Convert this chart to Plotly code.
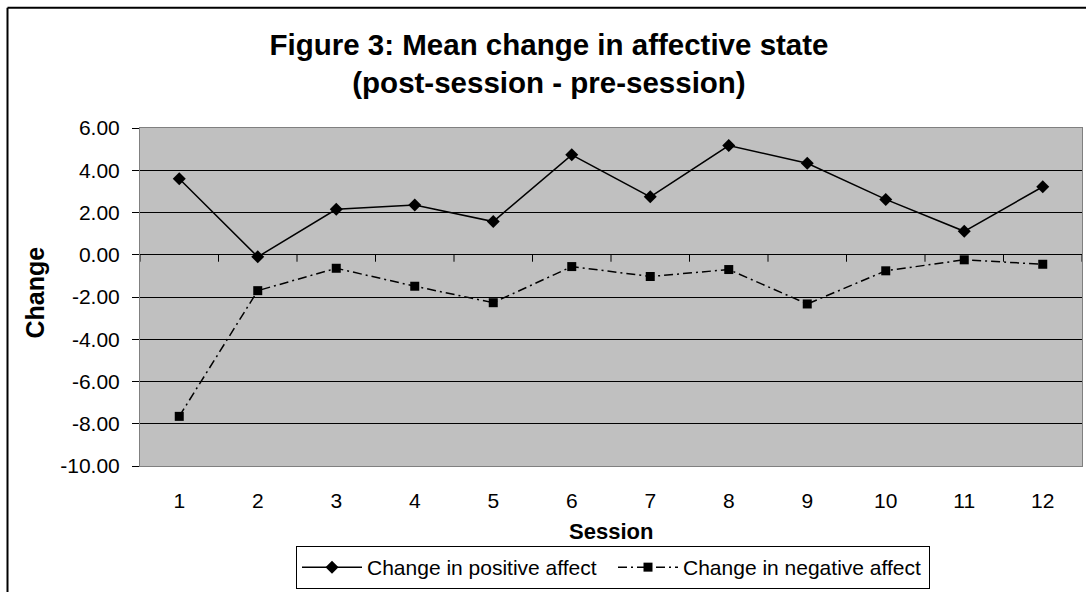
import plotly.graph_objects as go

# Mean change per session (post-session minus pre-session)
sessions = [1, 2, 3, 4, 5, 6, 7, 8, 9, 10, 11, 12]
positive_change = [3.60, -0.10, 2.15, 2.35, 1.57, 4.73, 2.74, 5.17, 4.33, 2.62, 1.11, 3.22]
negative_change = [-7.65, -1.70, -0.64, -1.49, -2.27, -0.56, -1.03, -0.70, -2.33, -0.76, -0.24, -0.45]

y_ticks = [6, 4, 2, 0, -2, -4, -6, -8, -10]
y_tick_labels = ["6.00", "4.00", "2.00", "0.00", "-2.00", "-4.00", "-6.00", "-8.00", "-10.00"]
x_tick_labels = [str(s) for s in sessions]

FONT = "Liberation Sans, Arial, sans-serif"

W, H = 1086, 592
ML, MR, MT, MB = 140, 4, 128, 125
PW, PH = W - ML - MR, H - MT - MB


def px_x(p):
    return (p - ML) / PW


def px_y(p):
    return (H - MB - p) / PH


fig = go.Figure()

fig.add_trace(go.Scatter(
    x=sessions, y=positive_change, mode="lines+markers",
    name="Change in positive affect",
    line=dict(color="black", width=1.5),
    marker=dict(symbol="diamond", size=10, color="black"),
))
fig.add_trace(go.Scatter(
    x=sessions, y=negative_change, mode="lines+markers",
    name="Change in negative affect",
    line=dict(color="black", width=1.5, dash="9px,4px,2px,4px"),
    marker=dict(symbol="square", size=9, color="black"),
))

shapes = []
# tick marks hanging from the zero line at category boundaries
y_per_px = 16 / PH
for k in range(len(sessions) + 1):
    b = k + 0.5
    shapes.append(dict(type="line", xref="x", yref="y", x0=b, x1=b,
                       y0=0, y1=-7 * y_per_px, line=dict(color="black", width=1)))
# chart frame (left and top edges)
shapes.append(dict(type="line", xref="paper", yref="paper",
                   x0=px_x(7.5), x1=px_x(7.5), y0=px_y(7.5), y1=px_y(H + 5),
                   line=dict(color="black", width=2)))
shapes.append(dict(type="line", xref="paper", yref="paper",
                   x0=px_x(7.5), x1=px_x(W + 5), y0=px_y(7.5), y1=px_y(7.5),
                   line=dict(color="black", width=2)))

annotations = [
    dict(text="<b>Change</b>", textangle=-90, xref="paper", yref="paper",
         x=px_x(35), y=px_y(293), xanchor="center", yanchor="middle",
         showarrow=False, font=dict(family=FONT, size=25, color="black")),
    dict(text="<b>Session</b>", xref="paper", yref="paper",
         x=0.5, y=px_y(533), xanchor="center", yanchor="middle",
         showarrow=False, font=dict(family=FONT, size=22, color="black")),
]

fig.update_layout(
    width=W, height=H,
    margin=dict(l=ML, r=MR, t=MT, b=MB, pad=0),
    paper_bgcolor="white",
    plot_bgcolor="#C0C0C0",
    font=dict(family=FONT, size=21, color="black"),
    title=dict(
        text="<b>Figure 3: Mean change in affective state<br>(post-session - pre-session)</b>",
        x=549 / W, xref="container", xanchor="center",
        y=1 - 55 / H, yref="container", yanchor="middle",
        font=dict(family=FONT, size=29.5, color="black"),
    ),
    xaxis=dict(
        range=[0.5, 12.5], tickvals=sessions, ticktext=x_tick_labels,
        ticks="", showgrid=False, zeroline=False,
        showline=True, linecolor="#808080", linewidth=1, mirror=True,
        ticklabelstandoff=16,
        tickfont=dict(family=FONT, size=21, color="black"),
    ),
    yaxis=dict(
        range=[-10, 6], tickvals=y_ticks, ticktext=y_tick_labels,
        ticks="outside", ticklen=7, tickcolor="black", tickwidth=1,
        showgrid=True, gridcolor="black", gridwidth=1,
        zeroline=True, zerolinecolor="black", zerolinewidth=1,
        showline=True, linecolor="#808080", linewidth=1, mirror=True,
        ticklabelstandoff=8,
        tickfont=dict(family=FONT, size=21, color="black"),
    ),
    legend=dict(
        orientation="h", x=px_x(613), xanchor="center", y=px_y(546), yanchor="top",
        bgcolor="white", bordercolor="black", borderwidth=1,
        font=dict(family=FONT, size=21, color="black"),
        entrywidth=241, itemwidth=60,
    ),
    shapes=shapes,
    annotations=annotations,
    showlegend=True,
)

fig.write_html("out.html")
